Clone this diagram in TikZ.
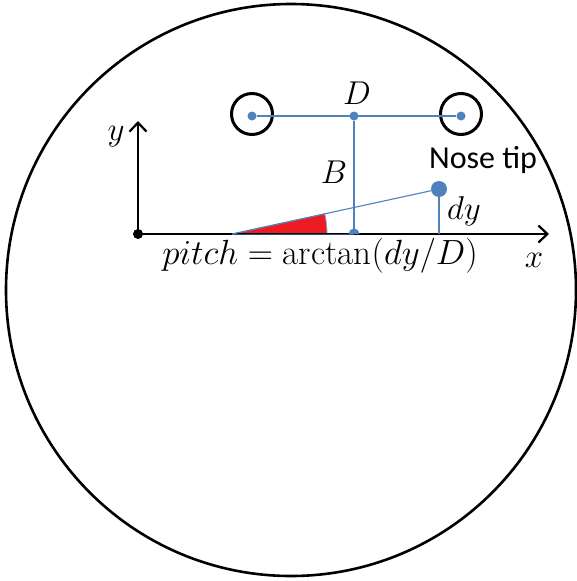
\RequirePackage{fix-cm}
\documentclass[tikz,border=0pt]{standalone}
\usepackage{amsmath}
\usepackage{fontspec}
\newfontfamily\labelfont{Carlito}
\usepackage{tikz}
\usetikzlibrary{arrows.meta,positioning,calc}
\definecolor{faceblue}{RGB}{79,129,189}
\definecolor{wedgered}{RGB}{237,28,36}

\begin{document}
\begin{tikzpicture}[x=1pt, y=-1pt,
    head/.style={draw=black, line width=2.6pt},
    eyering/.style={circle, draw=black, line width=3pt, minimum width=41pt, minimum height=39pt, inner sep=0pt},
    dot/.style={circle, fill=faceblue, inner sep=0pt, minimum size=9pt},
    bigdot/.style={circle, fill=faceblue, inner sep=0pt, minimum size=16pt},
    guide/.style={draw=faceblue, line width=1.1pt},
    axis/.style={draw=black, line width=2.4pt, -{Straight Barb[length=9pt, width=17pt, line width=2.2pt]}},
    mathlabel/.style={font=\fontsize{33}{38}\selectfont, inner sep=1pt},
    textlabel/.style={font=\labelfont\fontsize{32}{38}\selectfont, inner sep=1pt}
]
    \useasboundingbox (0,0) rectangle (577,581);

    % Head outline
    \draw[head] (291,290) ellipse [x radius=285, y radius=286];

    % Eyes
    \node[eyering] (leftring) at (252,114) {};
    \node[eyering] (rightring) at (461,114) {};
    \node[dot] (lefteye) at (252,116) {};
    \node[dot] (righteye) at (461,116) {};
    \node[dot] (midpoint) at (354,116) {};

    % Axes
    \node[circle, fill=black, inner sep=0pt, minimum size=10pt] (origin) at (138,234) {};
    \coordinate (xend) at (549,234);
    \coordinate (yend) at (138,121);
    \coordinate (apex) at (232,234);
    \coordinate (foot) at (354,234);
    \coordinate (nosefoot) at (439,234);

    % Pitch wedge
    \filldraw[fill=wedgered, draw=faceblue!70, line width=0.8pt]
        (apex) -- ++(95,0) arc[start angle=0, end angle=-12.3, radius=95] -- cycle;

    \draw[axis] (origin.center) -- (xend);
    \draw[axis] (origin.center) -- (yend);
    \draw[guide, draw=faceblue!60!black, line width=0.8pt] (apex) -- (foot);

    % Nose tip
    \node[bigdot] (nose) at (439,189) {};
    \draw[guide] (lefteye) -- (righteye);
    \draw[guide] (midpoint) -- (foot);
    \draw[guide] (apex) -- (nose);
    \draw[guide] (nose) -- (nosefoot);
    \fill[faceblue] ($(foot)+(5.5,0)$) arc[start angle=0, end angle=-180, radius=5.5] -- cycle;

    % Labels
    \node[mathlabel] (dlabel) at (357,93) {$D$};
    \node[mathlabel] (blabel) at (334,172) {$B$};
    \node[mathlabel] (ylabel) at (116,137) {$y$};
    \node[mathlabel] (xlabel) at (534,260) {$x$};
    \node[mathlabel] (dylabel) at (464,211) {$dy$};
    \node[textlabel] (noselabel) at (483,160) {Nose tip};
    \node[mathlabel, font=\fontsize{35}{40}\selectfont] (pitchlabel) at (320,256) {$pitch=\arctan(dy/D)$};
\end{tikzpicture}
\end{document}
